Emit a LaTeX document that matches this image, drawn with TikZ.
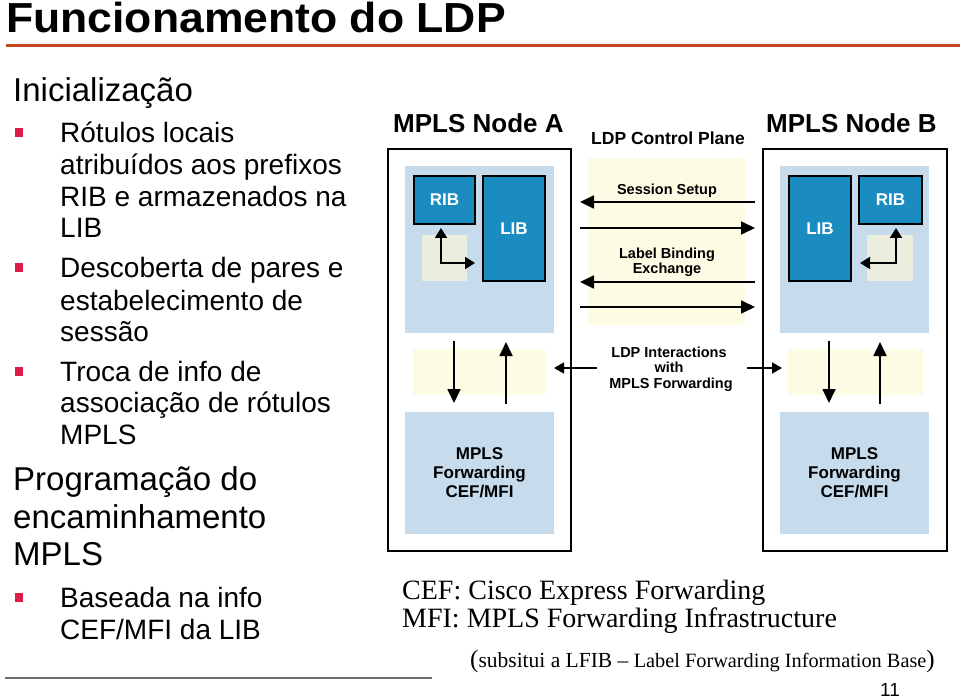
\documentclass[tikz,border=0pt]{standalone}
\usepackage{fontspec}
\setmainfont{Liberation Sans}
\newfontfamily\seriffont[Ligatures=TeX]{Liberation Serif}
\usetikzlibrary{arrows.meta,calc}
\definecolor{ribblue}{RGB}{26,140,192}
\definecolor{lightblue}{RGB}{198,220,237}
\definecolor{beigesq}{RGB}{236,238,221}
\definecolor{bandyellow}{RGB}{253,251,227}
\definecolor{titleline}{RGB}{196,68,28}
\definecolor{bulletred}{RGB}{222,28,72}
\definecolor{rulegray}{RGB}{110,110,110}
\tikzset{
  rect/.style={rectangle, inner sep=0pt, outer sep=0pt, anchor=north west},
  outerbox/.style={rect, draw=black, line width=1.8pt, fill=white},
  softblue/.style={rect, fill=lightblue},
  tablebox/.style={rect, fill=ribblue, draw=black, line width=1.3pt, text=white,
    font=\fontsize{17}{19}\selectfont\bfseries},
  beigebox/.style={rect, fill=beigesq},
  bandbox/.style={rect, fill=bandyellow},
  maintxt/.style={anchor=base west, inner sep=0pt, font=\fontsize{33}{36}\selectfont},
  subtxt/.style={anchor=base west, inner sep=0pt, font=\fontsize{28}{31}\selectfont},
  bulletsq/.style={rectangle, fill=bulletred, inner sep=0pt, minimum width=8pt, minimum height=9pt},
  cptxt/.style={anchor=base, inner sep=0pt, font=\fontsize{14.5}{16}\selectfont\bfseries},
  fwdtxt/.style={align=center, inner sep=0pt, font=\fontsize{17}{19}\selectfont\bfseries},
  nodetitle/.style={anchor=base west, inner sep=0pt, font=\fontsize{26}{28}\selectfont\bfseries},
  sertxt/.style={anchor=base west, inner sep=0pt, font=\seriffont\fontsize{28}{30}\selectfont},
  bigarr/.style={line width=1.8pt, -{Triangle[length=14pt,width=13pt]}},
  elbarr/.style={line width=2pt, {Triangle[length=10pt,width=12pt]}-{Triangle[length=10pt,width=12pt]}},
  smallarr/.style={line width=1.8pt, -{Triangle[length=10pt,width=11pt]}}
}
\begin{document}
\begin{tikzpicture}[x=1pt,y=-1pt]
\useasboundingbox (0,0) rectangle (960,700);
\fill[white] (0,0) rectangle (960,700);

% title
\node[anchor=base west, inner sep=0pt] (title) at (6,33)
  {\scalebox{1.06}[1]{\fontsize{42}{44}\selectfont\bfseries Funcionamento do LDP}};
\coordinate (tlL) at (6,46);
\coordinate (tlR) at (960,46);
\draw[titleline, line width=3pt] (tlL) -- (tlR);

% left text
\node[maintxt] (t1) at (13,102) {Inicialização};
\node[bulletsq] (b1) at (19,133) {};
\node[subtxt] (s1a) at (60,143) {Rótulos locais};
\node[subtxt] (s1b) at (60,175) {atribuídos aos prefixos};
\node[subtxt] (s1c) at (60,207) {RIB e armazenados na};
\node[subtxt] (s1d) at (60,238) {LIB};
\node[bulletsq] (b2) at (19,268) {};
\node[subtxt] (s2a) at (60,278) {Descoberta de pares e};
\node[subtxt] (s2b) at (60,310) {estabelecimento de};
\node[subtxt] (s2c) at (60,341) {sessão};
\node[bulletsq] (b3) at (19,371) {};
\node[subtxt] (s3a) at (60,381) {Troca de info de};
\node[subtxt] (s3b) at (60,412) {associação de rótulos};
\node[subtxt] (s3c) at (60,444) {MPLS};
\node[maintxt] (t2a) at (13,490) {Programação do};
\node[maintxt] (t2b) at (13,528) {encaminhamento};
\node[maintxt] (t2c) at (13,565) {MPLS};
\node[bulletsq] (b4) at (19,597) {};
\node[subtxt] (s4a) at (60,607) {Baseada na info};
\node[subtxt] (s4b) at (60,639) {CEF/MFI da LIB};
\coordinate (glL) at (5,678);
\coordinate (glR) at (432,678);
\draw[rulegray, line width=1.5pt] (glL) -- (glR);
\node[anchor=base west, inner sep=0pt, font=\fontsize{19}{20}\selectfont] (pnum) at (880,696) {11};

% node titles
\node[nodetitle] (tA) at (393,133) {MPLS Node A};
\node[nodetitle] (tB) at (766,133) {MPLS Node B};

% Node A
\node[outerbox, minimum width=183pt, minimum height=402pt] (Abox) at (388,149) {};
\node[softblue, minimum width=149pt, minimum height=167pt] (Aup) at (405,166) {};
\node[beigebox, minimum width=45pt, minimum height=46pt] (begA) at (422,235) {};
\node[tablebox, minimum width=61pt, minimum height=48pt] (ribA) at (414,176) {RIB};
\node[tablebox, minimum width=62pt, minimum height=105pt] (libA) at (483,176) {LIB};
\node[bandbox, minimum width=132pt, minimum height=46pt] (bandA) at (413,349) {};
\node[softblue, minimum width=149pt, minimum height=122pt] (lowA) at (405,412) {};
\node[fwdtxt] (fA) at (lowA.center) {MPLS\\Forwarding\\CEF/MFI};

% Node B
\node[outerbox, minimum width=184pt, minimum height=402pt] (Bbox) at (763,149) {};
\node[softblue, minimum width=149pt, minimum height=167pt] (Bup) at (780,166) {};
\node[beigebox, minimum width=46pt, minimum height=46pt] (begB) at (867,235) {};
\node[tablebox, minimum width=62pt, minimum height=105pt] (libB) at (789,176) {LIB};
\node[tablebox, minimum width=63pt, minimum height=48pt] (ribB) at (859,176) {RIB};
\node[bandbox, minimum width=135pt, minimum height=46pt] (bandB) at (788,349) {};
\node[softblue, minimum width=149pt, minimum height=122pt] (lowB) at (780,412) {};
\node[fwdtxt] (fB) at (lowB.center) {MPLS\\Forwarding\\CEF/MFI};

% elbow arrows
\coordinate (eA) at (441,263);
\draw[elbarr, shorten <=4pt, shorten >=8pt] (ribA.south -| eA) |- (libA.west |- eA);
\coordinate (eB) at (896,263);
\draw[elbarr, shorten <=4pt, shorten >=9pt] (ribB.south -| eB) |- (libB.east |- eB);

% vertical arrows
\coordinate (dA) at (454,0);
\coordinate (uA) at (506,0);
\coordinate (dB) at (829,0);
\coordinate (uB) at (880,0);
\draw[bigarr, shorten <=8pt, shorten >=9pt] (Aup.south -| dA) -- (lowA.north -| dA);
\draw[bigarr, shorten <=8pt, shorten >=9pt] (lowA.north -| uA) -- (Aup.south -| uA);
\draw[bigarr, shorten <=8pt, shorten >=9pt] (Bup.south -| dB) -- (lowB.north -| dB);
\draw[bigarr, shorten <=8pt, shorten >=9pt] (lowB.north -| uB) -- (Bup.south -| uB);

% control plane
\node[bandbox, minimum width=157pt, minimum height=167pt] (cband) at (588,158) {};
\node[anchor=base, inner sep=0pt, font=\fontsize{17.5}{19}\selectfont\bfseries] (cpt) at (668,145) {LDP Control Plane};
\node[cptxt] (ss) at (667,195) {Session Setup};
\node[cptxt] (lb1) at (667,259) {Label Binding};
\node[cptxt] (lb2) at (667,274) {Exchange};
\coordinate (r1) at (0,202);
\coordinate (r2) at (0,228);
\coordinate (r3) at (0,282);
\coordinate (r4) at (0,307);
\draw[bigarr, shorten <=8pt, shorten >=9pt] (Bbox.west |- r1) -- (Abox.east |- r1);
\draw[bigarr, shorten <=9pt, shorten >=8pt] (Abox.east |- r2) -- (Bbox.west |- r2);
\draw[bigarr, shorten <=8pt, shorten >=9pt] (Bbox.west |- r3) -- (Abox.east |- r3);
\draw[bigarr, shorten <=9pt, shorten >=8pt] (Abox.east |- r4) -- (Bbox.west |- r4);

\node[cptxt] (li1) at (669,357) {LDP Interactions};
\node[cptxt] (li2) at (669,372) {with};
\node[cptxt] (li3) at (671,388) {MPLS Forwarding};
\coordinate (liL) at (597,368);
\coordinate (liR) at (747,368);
\draw[smallarr] (liL) -- (Aup.east |- liL);
\draw[smallarr, shorten >=-2pt] (liR) -- (Bup.west |- liR);

% serif notes
\node[sertxt] (cef) at (402,599) {CEF: Cisco Express Forwarding};
\node[sertxt] (mfi) at (402,627) {MFI: MPLS Forwarding Infrastructure};
\node[anchor=base west, inner sep=0pt, font=\seriffont] (lfib) at (470,667)
  {{\fontsize{25}{26}\selectfont(}{\fontsize{21.5}{23}\selectfont subsitui a LFIB – }{\fontsize{20.3}{22}\selectfont Label Forwarding Information Base}{\fontsize{25}{26}\selectfont)}};
\end{tikzpicture}
\end{document}
